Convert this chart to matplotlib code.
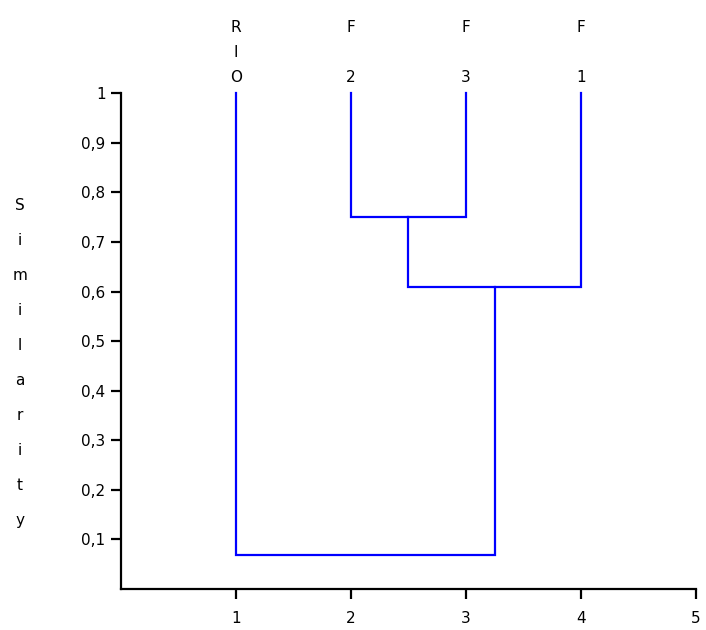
import matplotlib
matplotlib.use("Agg")
import matplotlib.pyplot as plt

# leaves, in plotted order
leaf_names = ["RIO", "F2", "F3", "F1"]
leaf_pos = [1, 2, 3, 4]
top_labels = ["R\nI\nO", "F\n\n2", "F\n\n3", "F\n\n1"]

# merges: (left x, right x, similarity at join, left child height, right child height)
merge_left = [2, 2.5, 1]
merge_right = [3, 4, 3.25]
merge_sim = [0.75, 0.61, 0.068]
merge_hl = [1.0, 0.75, 1.0]
merge_hr = [1.0, 1.0, 0.61]

y_ticks = [0.1, 0.2, 0.3, 0.4, 0.5, 0.6, 0.7, 0.8, 0.9, 1.0]
y_ticklabels = ["0,1", "0,2", "0,3", "0,4", "0,5", "0,6", "0,7", "0,8", "0,9", "1"]
x_ticks = [1, 2, 3, 4, 5]


def main():
    fig = plt.figure(figsize=(7.06, 6.30), dpi=100)
    ax = fig.add_axes([0.171, 0.065, 0.815, 0.787])

    for xl, xr, s, hl, hr in zip(merge_left, merge_right, merge_sim, merge_hl, merge_hr):
        ax.plot([xl, xl, xr, xr], [hl, s, s, hr], color="#0000ff", lw=1.6,
                solid_joinstyle="miter", clip_on=False)

    ax.set_xlim(0, 5)
    ax.set_ylim(0, 1)
    ax.spines["top"].set_visible(False)
    ax.spines["right"].set_visible(False)
    for s in ["left", "bottom"]:
        ax.spines[s].set_linewidth(1.6)
    ax.set_yticks(y_ticks)
    ax.set_yticklabels(y_ticklabels)
    ax.set_xticks(x_ticks)
    ax.tick_params(direction="out", length=7, width=1.6, labelsize=11, pad=4)
    ax.tick_params(axis="x", pad=9)

    for x, lab in zip(leaf_pos, top_labels):
        ax.text(x, 1.016, lab, ha="center", va="bottom", fontsize=11,
                linespacing=1.86, transform=ax.transData, clip_on=False)

    fig.text(0.028, 0.424, "\n".join("Similarity"), ha="center", va="center",
             fontsize=11, linespacing=2.66)

    fig.savefig("out.png", dpi=100)


if __name__ == "__main__":
    main()
